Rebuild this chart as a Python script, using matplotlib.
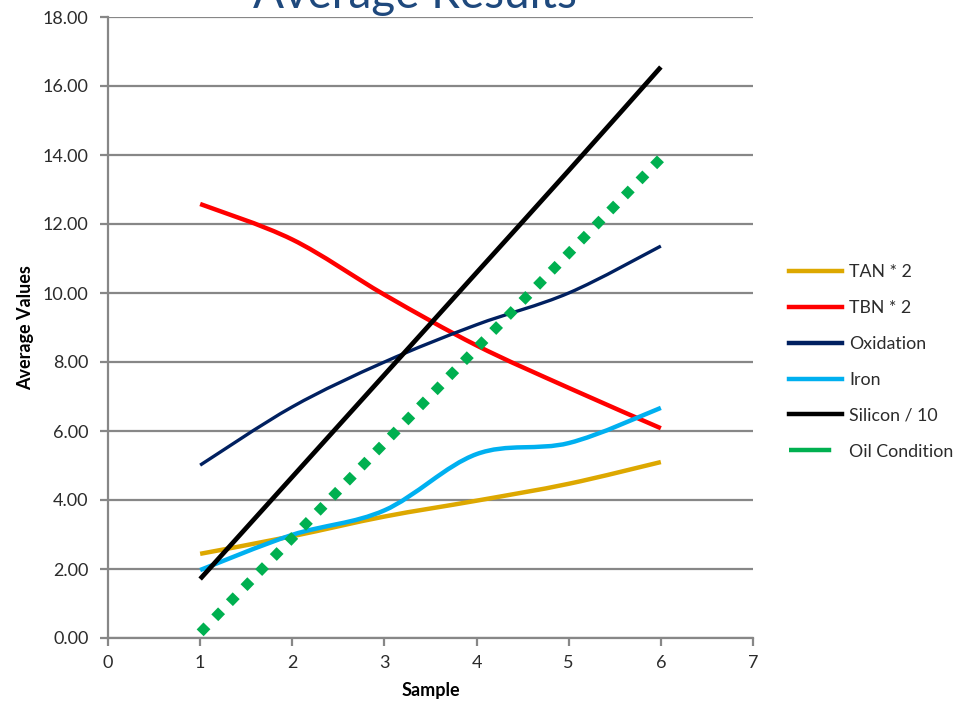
import matplotlib
matplotlib.use("Agg")
import matplotlib.pyplot as plt
import numpy as np
from matplotlib.path import Path
from matplotlib.patches import PathPatch
from matplotlib.lines import Line2D

plt.rcParams['font.family'] = ['Lato', 'DejaVu Sans']

samples = [1, 2, 3, 4, 5, 6]
tan_x2 = [2.44, 2.95, 3.52, 3.98, 4.47, 5.10]
tbn_x2 = [12.58, 11.55, 9.95, 8.48, 7.25, 6.08]
oxidation = [5.01, 6.70, 8.00, 9.08, 10.00, 11.36]
iron = [1.97, 2.99, 3.70, 5.33, 5.65, 6.67]
silicon_div10 = [1.71, 4.67, 7.63, 10.59, 13.55, 16.55]
oil_condition = [0.15, 2.90, 5.65, 8.40, 11.15, 13.90]

labels = ["TAN * 2", "TBN * 2", "Oxidation", "Iron", "Silicon / 10", "Oil Condition"]
colors = ["#DDA800", "#FF0000", "#002060", "#00B0F0", "#000000", "#00B050"]
x_ticks = [0, 1, 2, 3, 4, 5, 6, 7]
y_ticks = [0, 2, 4, 6, 8, 10, 12, 14, 16, 18]


def smooth_path(xs, ys):
    """Cubic Bezier path through the points (Catmull-Rom style smoothing)."""
    p = np.column_stack([xs, ys]).astype(float)
    n = len(p)
    verts = [p[0]]
    codes = [Path.MOVETO]
    for i in range(n - 1):
        p0 = p[i - 1] if i > 0 else p[i]
        p1 = p[i]
        p2 = p[i + 1]
        p3 = p[i + 2] if i + 2 < n else p[i + 1]
        c1 = p1 + (p2 - p0) / 6.0
        c2 = p2 - (p3 - p1) / 6.0
        verts += [c1, c2, p2]
        codes += [Path.CURVE4] * 3
    return Path(verts, codes)


fig = plt.figure(figsize=(9.57, 7.04), dpi=100)
ax = fig.add_axes([108 / 957, 1 - 638 / 704, (753 - 108) / 957, (638 - 17) / 704])

grid_c = "#878787"
ax.set_xlim(0, 7)
ax.set_ylim(0, 18)
ax.set_yticks(y_ticks)
ax.set_yticklabels([f"{v:.2f}" for v in y_ticks])
ax.set_xticks(x_ticks)
ax.set_xticklabels([str(v) for v in x_ticks])
ax.grid(axis='y', color=grid_c, lw=1.6)
ax.set_axisbelow(True)
for s in ['top', 'right']:
    ax.spines[s].set_visible(False)
for s in ['left', 'bottom']:
    ax.spines[s].set_color(grid_c)
    ax.spines[s].set_linewidth(1.6)
ax.tick_params(axis='both', direction='out', length=6, width=1.6, color=grid_c,
               labelsize=13, labelcolor="#2b2b2b")
ax.tick_params(axis='y', pad=8)
ax.tick_params(axis='x', pad=6)

series = [tan_x2, tbn_x2, oxidation, iron, silicon_div10]
widths = [3.2, 3.2, 2.4, 3.2, 3.4]
for ys, c, w in zip(series, colors[:5], widths):
    ax.add_patch(PathPatch(smooth_path(samples, ys), facecolor='none',
                           edgecolor=c, lw=w, capstyle='butt', zorder=3))

ax.plot(samples, oil_condition, color=colors[5], lw=7.0,
        linestyle=(0, (1, 1.16)), dash_capstyle='butt', zorder=4)

ax.set_xlabel("Sample", fontsize=13, fontweight='bold', labelpad=8)
ax.set_ylabel("Average Values", fontsize=13, fontweight='bold', labelpad=6)

fig.text(415 / 957, 1 - 8 / 704, "Average Results", fontsize=33,
         color="#1F497D", ha='center', va='baseline')

handles = [Line2D([], [], color=c, lw=3.2) for c in colors[:5]]
handles.append(Line2D([], [], color=colors[5], lw=3.2, linestyle=(0, (9.5, 20))))
ax.legend(handles, labels, loc='upper left', frameon=False,
          bbox_to_anchor=(789 / 957, 1 - 264 / 704), bbox_transform=fig.transFigure,
          borderaxespad=0, borderpad=0, fontsize=12.8, handlelength=3.0,
          handletextpad=0.4, labelspacing=1.12, labelcolor="#2b2b2b")

fig.savefig("out.png", dpi=100)
